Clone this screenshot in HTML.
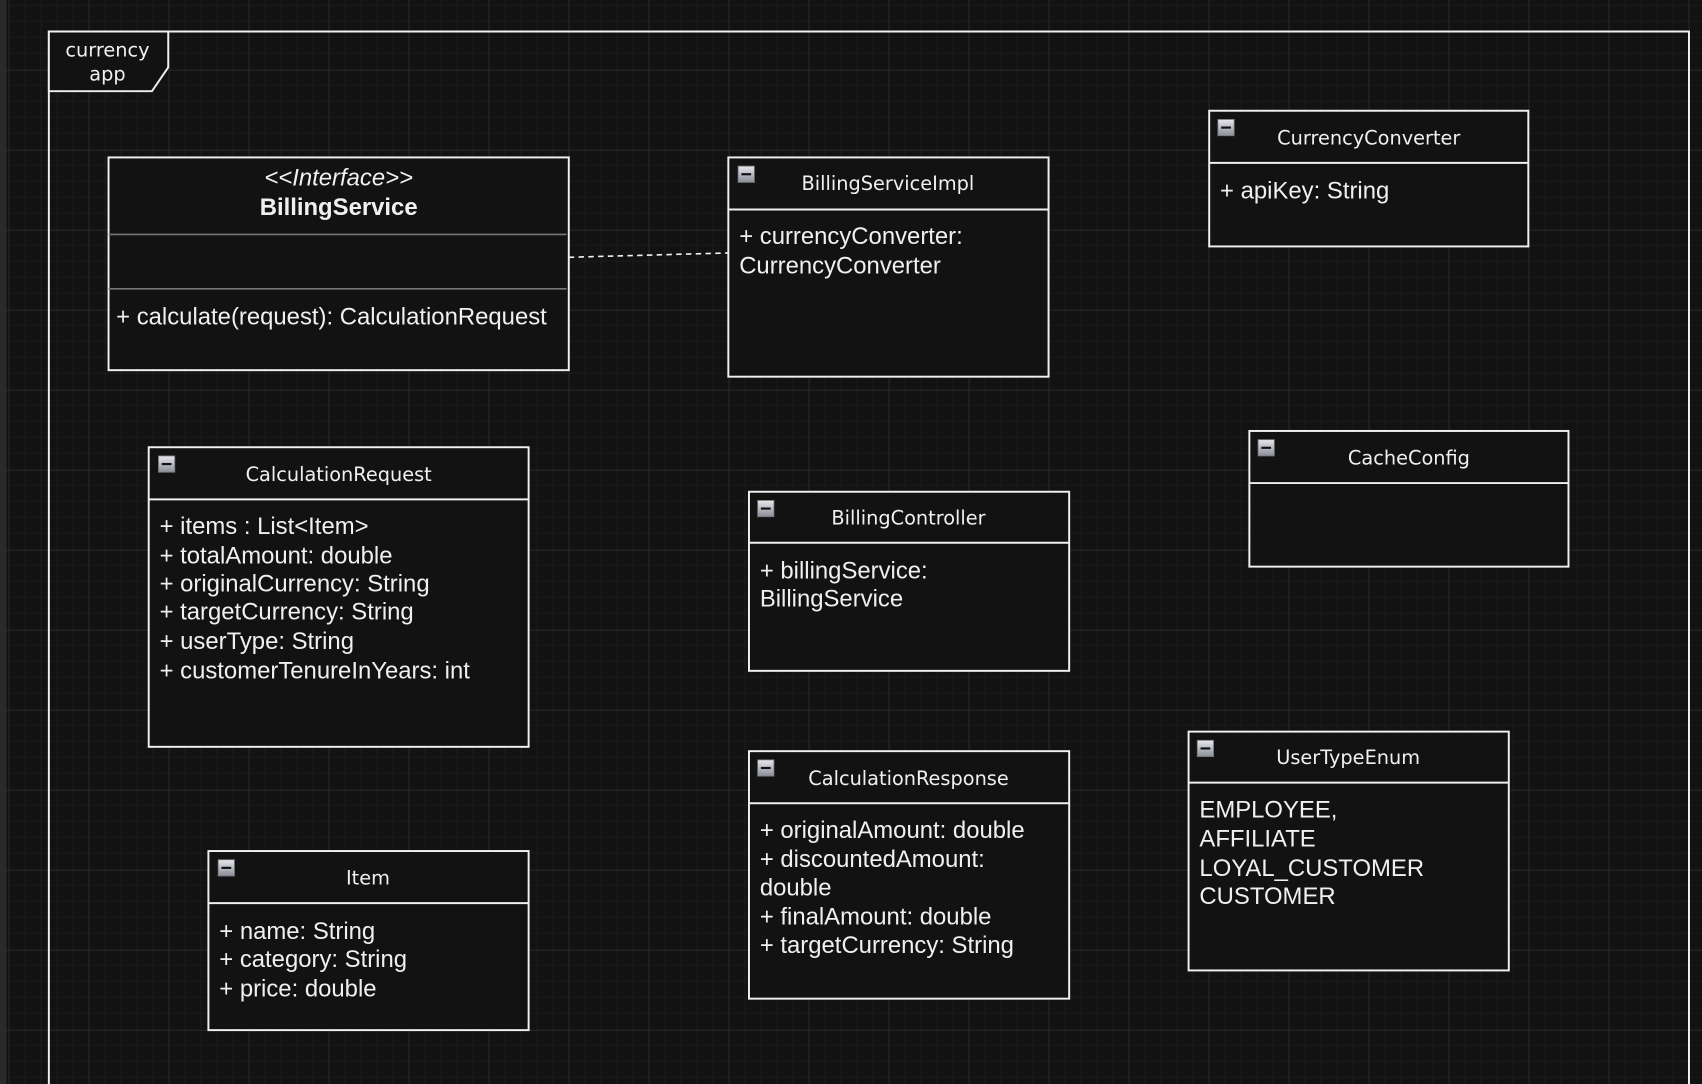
<!DOCTYPE html>
<html><head><meta charset="utf-8"><style>
html,body{margin:0;padding:0;background:#121212;width:1702px;height:1084px;overflow:hidden}
svg{display:block}
.h{font-family:"DejaVu Sans",sans-serif;font-size:17.8px;fill:#f0f0f0;text-anchor:middle;dominant-baseline:central}
.t{font-family:"Liberation Sans",sans-serif;font-size:22px;fill:#f0f0f0;dominant-baseline:central}
.b{fill:#121212;stroke:#f0f0f0;stroke-width:1.8}
</style></head><body>
<svg width="1702" height="1084" viewBox="0 0 1568 998.6" xmlns="http://www.w3.org/2000/svg">
<defs>
<pattern id="mn" width="14.74" height="14.74" patternUnits="userSpaceOnUse" x="8.1" y="4.5">
<path d="M0 0H14.74M0 0V14.74" stroke="#222" stroke-width="1" fill="none"/></pattern>
<pattern id="mj" width="73.7" height="73.7" patternUnits="userSpaceOnUse" x="8.1" y="64.5">
<path d="M0 0H73.7M0 0V73.7" stroke="#363636" stroke-width="1" fill="none"/></pattern>
<linearGradient id="ig" x1="0" y1="0" x2="0" y2="1"><stop offset="0" stop-color="#e8e8ee"/><stop offset="1" stop-color="#8a8e98"/></linearGradient>
<g id="ic"><rect x="0" y="0" width="15" height="15" fill="url(#ig)" stroke="#777" stroke-width="0.8"/><rect x="3" y="6.5" width="9" height="2" fill="#111"/></g>
</defs>
<rect width="1568" height="1000" fill="#121212"/>
<rect width="1568" height="1000" fill="url(#mn)"/>
<rect width="1568" height="1000" fill="url(#mj)"/>
<rect x="0" y="0" width="6" height="1000" fill="#2a2a2a"/>

<path d="M45 1000V29H1556V1000" fill="none" stroke="#f0f0f0" stroke-width="1.8"/>
<path d="M45 29H155V62L140 84H45Z" fill="#121212" stroke="#f0f0f0" stroke-width="1.8"/>
<text class="h" x="99" y="46">currency</text>
<text class="h" x="99" y="68">app</text>

<path d="M524 237L671 233" stroke="#f0f0f0" stroke-width="1.5" stroke-dasharray="5,4" fill="none"/>

<rect class="b" x="100" y="145" width="424" height="196"/>
<line x1="100" y1="216" x2="522" y2="216" stroke="#777" stroke-width="1.5"/>
<line x1="100" y1="266" x2="522" y2="266" stroke="#777" stroke-width="1.5"/>
<text x="312" y="164" style="font-family:'Liberation Sans',sans-serif;font-size:22px;font-style:italic;fill:#f0f0f0;text-anchor:middle;dominant-baseline:central">&lt;&lt;Interface&gt;&gt;</text>
<text x="312" y="191" style="font-family:'Liberation Sans',sans-serif;font-size:22px;font-weight:bold;fill:#f0f0f0;text-anchor:middle;dominant-baseline:central">BillingService</text>
<text class="t" x="107" y="292">+ calculate(request): CalculationRequest</text>

<rect class="b" x="671" y="145" width="295" height="202"/>
<line x1="671" y1="193" x2="966" y2="193" stroke="#f0f0f0" stroke-width="1.8"/>
<use href="#ic" x="680" y="153"/>
<text class="h" x="818" y="169">BillingServiceImpl</text>
<text class="t" x="681" y="218">+ currencyConverter:</text>
<text class="t" x="681" y="245">CurrencyConverter</text>

<rect class="b" x="1114" y="102" width="294" height="125"/>
<line x1="1114" y1="150" x2="1408" y2="150" stroke="#f0f0f0" stroke-width="1.8"/>
<use href="#ic" x="1122" y="110"/>
<text class="h" x="1261" y="127">CurrencyConverter</text>
<text class="t" x="1124" y="176">+ apiKey: String</text>

<rect class="b" x="137" y="412" width="350" height="276"/>
<line x1="137" y1="460" x2="487" y2="460" stroke="#f0f0f0" stroke-width="1.8"/>
<use href="#ic" x="146" y="420"/>
<text class="h" x="312" y="437">CalculationRequest</text>
<text class="t" x="147" y="485">+ items : List&lt;Item&gt;</text>
<text class="t" x="147" y="512">+ totalAmount: double</text>
<text class="t" x="147" y="538">+ originalCurrency: String</text>
<text class="t" x="147" y="564">+ targetCurrency: String</text>
<text class="t" x="147" y="591">+ userType: String</text>
<text class="t" x="147" y="618">+ customerTenureInYears: int</text>

<rect class="b" x="690" y="453" width="295" height="165"/>
<line x1="690" y1="500" x2="985" y2="500" stroke="#f0f0f0" stroke-width="1.8"/>
<use href="#ic" x="698" y="461"/>
<text class="h" x="837" y="477">BillingController</text>
<text class="t" x="700" y="526">+ billingService:</text>
<text class="t" x="700" y="552">BillingService</text>

<rect class="b" x="1151" y="397" width="294" height="125"/>
<line x1="1151" y1="445" x2="1445" y2="445" stroke="#f0f0f0" stroke-width="1.8"/>
<use href="#ic" x="1159" y="405"/>
<text class="h" x="1298" y="422">CacheConfig</text>

<rect class="b" x="690" y="692" width="295" height="228"/>
<line x1="690" y1="740" x2="985" y2="740" stroke="#f0f0f0" stroke-width="1.8"/>
<use href="#ic" x="698" y="700"/>
<text class="h" x="837" y="717">CalculationResponse</text>
<text class="t" x="700" y="765">+ originalAmount: double</text>
<text class="t" x="700" y="792">+ discountedAmount:</text>
<text class="t" x="700" y="818">double</text>
<text class="t" x="700" y="845">+ finalAmount: double</text>
<text class="t" x="700" y="871">+ targetCurrency: String</text>

<rect class="b" x="1095" y="674" width="295" height="220"/>
<line x1="1095" y1="721" x2="1390" y2="721" stroke="#f0f0f0" stroke-width="1.8"/>
<use href="#ic" x="1103" y="682"/>
<text class="h" x="1242" y="698">UserTypeEnum</text>
<text class="t" x="1105" y="746">EMPLOYEE,</text>
<text class="t" x="1105" y="773">AFFILIATE</text>
<text class="t" x="1105" y="800">LOYAL_CUSTOMER</text>
<text class="t" x="1105" y="826">CUSTOMER</text>

<rect class="b" x="192" y="784" width="295" height="165"/>
<line x1="192" y1="832" x2="487" y2="832" stroke="#f0f0f0" stroke-width="1.8"/>
<use href="#ic" x="201" y="792"/>
<text class="h" x="339" y="809">Item</text>
<text class="t" x="202" y="858">+ name: String</text>
<text class="t" x="202" y="884">+ category: String</text>
<text class="t" x="202" y="911">+ price: double</text>
</svg>
</body></html>
